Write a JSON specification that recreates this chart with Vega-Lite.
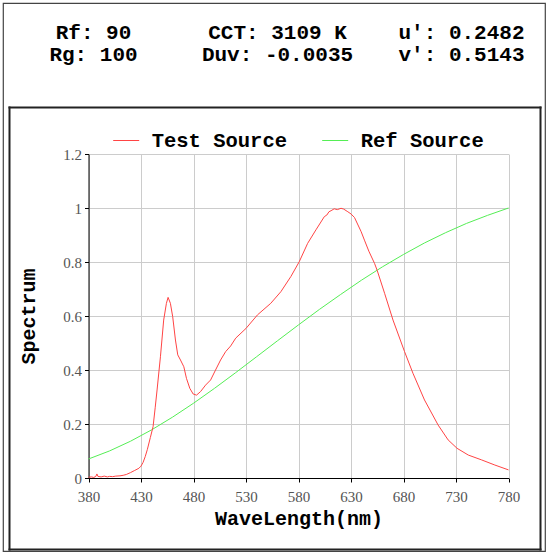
{
  "$schema": "https://vega.github.io/schema/vega-lite/v6.json",
  "autosize": "none",
  "padding": {"left": 3, "top": 3, "right": 3, "bottom": 2},
  "background": "white",
  "width": 542,
  "height": 548,
  "view": {"stroke": "#444444", "strokeWidth": 1.2},
  "config": {"font": "Liberation Mono"},
  "datasets": {
    "header": [
      {"col": "1", "row": "1", "label": "Rf: 90"},
      {"col": "2", "row": "1", "label": "CCT: 3109 K"},
      {"col": "3", "row": "1", "label": "u': 0.2482"},
      {"col": "1", "row": "2", "label": "Rg: 100"},
      {"col": "2", "row": "2", "label": "Duv: -0.0035"},
      {"col": "3", "row": "2", "label": "v': 0.5143"}
    ],
    "spectrum": [
      {"source": "Test Source", "wl": 380, "val": 0.003},
      {"source": "Test Source", "wl": 383, "val": 0.004},
      {"source": "Test Source", "wl": 385, "val": 0.002},
      {"source": "Test Source", "wl": 387, "val": 0.006},
      {"source": "Test Source", "wl": 388, "val": 0.015},
      {"source": "Test Source", "wl": 389, "val": 0.006},
      {"source": "Test Source", "wl": 392, "val": 0.004},
      {"source": "Test Source", "wl": 395, "val": 0.007},
      {"source": "Test Source", "wl": 398, "val": 0.004},
      {"source": "Test Source", "wl": 400, "val": 0.006},
      {"source": "Test Source", "wl": 403, "val": 0.005},
      {"source": "Test Source", "wl": 406, "val": 0.007},
      {"source": "Test Source", "wl": 410, "val": 0.008},
      {"source": "Test Source", "wl": 413, "val": 0.010},
      {"source": "Test Source", "wl": 416, "val": 0.013},
      {"source": "Test Source", "wl": 420, "val": 0.020},
      {"source": "Test Source", "wl": 424, "val": 0.028},
      {"source": "Test Source", "wl": 428, "val": 0.036},
      {"source": "Test Source", "wl": 430, "val": 0.044},
      {"source": "Test Source", "wl": 432, "val": 0.058},
      {"source": "Test Source", "wl": 434, "val": 0.079},
      {"source": "Test Source", "wl": 436, "val": 0.105},
      {"source": "Test Source", "wl": 438.9, "val": 0.150},
      {"source": "Test Source", "wl": 441.5, "val": 0.190},
      {"source": "Test Source", "wl": 443.5, "val": 0.26},
      {"source": "Test Source", "wl": 445.3, "val": 0.326},
      {"source": "Test Source", "wl": 448.5, "val": 0.449},
      {"source": "Test Source", "wl": 451.6, "val": 0.585},
      {"source": "Test Source", "wl": 454.2, "val": 0.647},
      {"source": "Test Source", "wl": 455.8, "val": 0.669},
      {"source": "Test Source", "wl": 458, "val": 0.647},
      {"source": "Test Source", "wl": 460.2, "val": 0.597},
      {"source": "Test Source", "wl": 462.8, "val": 0.511},
      {"source": "Test Source", "wl": 465, "val": 0.456},
      {"source": "Test Source", "wl": 467.6, "val": 0.437},
      {"source": "Test Source", "wl": 470.8, "val": 0.412},
      {"source": "Test Source", "wl": 473.3, "val": 0.369},
      {"source": "Test Source", "wl": 476.5, "val": 0.332},
      {"source": "Test Source", "wl": 479.7, "val": 0.311},
      {"source": "Test Source", "wl": 482.9, "val": 0.307},
      {"source": "Test Source", "wl": 486.7, "val": 0.32},
      {"source": "Test Source", "wl": 491.5, "val": 0.344},
      {"source": "Test Source", "wl": 496.3, "val": 0.363},
      {"source": "Test Source", "wl": 501, "val": 0.40},
      {"source": "Test Source", "wl": 505.8, "val": 0.437},
      {"source": "Test Source", "wl": 510.6, "val": 0.468},
      {"source": "Test Source", "wl": 515.4, "val": 0.489},
      {"source": "Test Source", "wl": 520.2, "val": 0.518},
      {"source": "Test Source", "wl": 530, "val": 0.554},
      {"source": "Test Source", "wl": 540.9, "val": 0.604},
      {"source": "Test Source", "wl": 553.6, "val": 0.647},
      {"source": "Test Source", "wl": 563.2, "val": 0.69},
      {"source": "Test Source", "wl": 572.7, "val": 0.746},
      {"source": "Test Source", "wl": 580.7, "val": 0.801},
      {"source": "Test Source", "wl": 588.7, "val": 0.869},
      {"source": "Test Source", "wl": 596.6, "val": 0.919},
      {"source": "Test Source", "wl": 604.6, "val": 0.968},
      {"source": "Test Source", "wl": 607, "val": 0.974},
      {"source": "Test Source", "wl": 609, "val": 0.986},
      {"source": "Test Source", "wl": 611, "val": 0.99},
      {"source": "Test Source", "wl": 614, "val": 0.997},
      {"source": "Test Source", "wl": 617, "val": 0.994},
      {"source": "Test Source", "wl": 620.5, "val": 0.999},
      {"source": "Test Source", "wl": 623, "val": 0.996},
      {"source": "Test Source", "wl": 627, "val": 0.986},
      {"source": "Test Source", "wl": 630, "val": 0.978},
      {"source": "Test Source", "wl": 633.3, "val": 0.965},
      {"source": "Test Source", "wl": 639.7, "val": 0.912},
      {"source": "Test Source", "wl": 642.8, "val": 0.881},
      {"source": "Test Source", "wl": 647, "val": 0.84},
      {"source": "Test Source", "wl": 652.4, "val": 0.795},
      {"source": "Test Source", "wl": 655, "val": 0.768},
      {"source": "Test Source", "wl": 662, "val": 0.684},
      {"source": "Test Source", "wl": 670, "val": 0.585},
      {"source": "Test Source", "wl": 681, "val": 0.468},
      {"source": "Test Source", "wl": 689, "val": 0.388},
      {"source": "Test Source", "wl": 700, "val": 0.289},
      {"source": "Test Source", "wl": 713, "val": 0.196},
      {"source": "Test Source", "wl": 722.5, "val": 0.141},
      {"source": "Test Source", "wl": 731, "val": 0.11},
      {"source": "Test Source", "wl": 741.7, "val": 0.085},
      {"source": "Test Source", "wl": 754.4, "val": 0.067},
      {"source": "Test Source", "wl": 767, "val": 0.048},
      {"source": "Test Source", "wl": 780, "val": 0.03},
      {"source": "Ref Source", "wl": 380, "val": 0.0704},
      {"source": "Ref Source", "wl": 400, "val": 0.1002},
      {"source": "Ref Source", "wl": 420, "val": 0.1362},
      {"source": "Ref Source", "wl": 440, "val": 0.1781},
      {"source": "Ref Source", "wl": 460, "val": 0.2253},
      {"source": "Ref Source", "wl": 480, "val": 0.2769},
      {"source": "Ref Source", "wl": 500, "val": 0.3321},
      {"source": "Ref Source", "wl": 520, "val": 0.3897},
      {"source": "Ref Source", "wl": 540, "val": 0.4489},
      {"source": "Ref Source", "wl": 560, "val": 0.5083},
      {"source": "Ref Source", "wl": 580, "val": 0.5671},
      {"source": "Ref Source", "wl": 600, "val": 0.6246},
      {"source": "Ref Source", "wl": 620, "val": 0.6794},
      {"source": "Ref Source", "wl": 640, "val": 0.7327},
      {"source": "Ref Source", "wl": 660, "val": 0.7822},
      {"source": "Ref Source", "wl": 680, "val": 0.8279},
      {"source": "Ref Source", "wl": 700, "val": 0.8706},
      {"source": "Ref Source", "wl": 720, "val": 0.9085},
      {"source": "Ref Source", "wl": 740, "val": 0.9429},
      {"source": "Ref Source", "wl": 760, "val": 0.9727},
      {"source": "Ref Source", "wl": 780, "val": 1.0}
    ]
  },
  "resolve": {
    "scale": {"x": "independent", "y": "independent"},
    "axis": {"x": "independent", "y": "independent"}
  },
  "layer": [
    {
      "data": {"name": "header"},
      "mark": {"type": "text", "font": "Liberation Mono", "fontWeight": "bold", "fontSize": 21, "baseline": "middle", "align": "center", "color": "#000000"},
      "encoding": {
        "x": {"field": "col", "type": "ordinal", "scale": {"type": "point", "domain": ["1", "2", "3"], "range": [90.5, 458.5], "padding": 0}, "axis": null},
        "y": {"field": "row", "type": "ordinal", "scale": {"type": "point", "domain": ["1", "2"], "range": [30, 52], "padding": 0}, "axis": null},
        "text": {"field": "label"}
      }
    },
    {
      "data": {"name": "spectrum"},
      "mark": {"type": "line", "opacity": 0},
      "encoding": {
        "x": {"field": "wl", "type": "quantitative", "scale": {"domain": [380, 780], "range": [6, 537], "nice": false, "zero": false},
              "axis": {"orient": "top", "offset": -104, "title": null, "labels": false, "ticks": false, "grid": false, "domain": true, "domainColor": "#222222", "domainWidth": 2, "domainCap": "square"}},
        "y": {"field": "val", "type": "quantitative", "scale": {"domain": [0, 1.2], "range": [546, 104], "nice": false, "zero": false},
              "axis": {"orient": "left", "offset": -6, "title": null, "labels": false, "ticks": false, "grid": false, "domain": true, "domainColor": "#222222", "domainWidth": 2, "domainCap": "square"}},
        "detail": {"field": "source"}
      }
    },
    {
      "data": {"name": "spectrum"},
      "mark": {"type": "line", "opacity": 0},
      "encoding": {
        "x": {"field": "wl", "type": "quantitative", "scale": {"domain": [380, 780], "range": [6, 537], "nice": false, "zero": false},
              "axis": {"orient": "bottom", "offset": -2, "title": null, "labels": false, "ticks": false, "grid": false, "domain": true, "domainColor": "#222222", "domainWidth": 2, "domainCap": "square"}},
        "y": {"field": "val", "type": "quantitative", "scale": {"domain": [0, 1.2], "range": [546, 104], "nice": false, "zero": false},
              "axis": {"orient": "right", "offset": -5, "title": null, "labels": false, "ticks": false, "grid": false, "domain": true, "domainColor": "#222222", "domainWidth": 2, "domainCap": "square"}},
        "detail": {"field": "source"}
      }
    },
    {
      "data": {"name": "spectrum"},
      "transform": [{"filter": "datum.source === 'Ref Source'"}],
      "mark": {"type": "line", "strokeWidth": 1},
      "encoding": {
        "x": {"field": "wl", "type": "quantitative", "scale": {"domain": [380, 780], "range": [85.5, 505.5], "nice": false, "zero": false},
              "axis": {"orient": "top", "offset": 0, "title": null, "labels": false, "ticks": false, "domain": false, "grid": true, "gridColor": "#cccccc", "gridWidth": 1,
                       "values": [380, 430, 480, 530, 580, 630, 680, 730, 780]}},
        "y": {"field": "val", "type": "quantitative", "scale": {"domain": [0, 1.2], "range": [475, 151], "nice": false, "zero": false}, "axis": null},
        "color": {
          "field": "source", "type": "nominal",
          "scale": {"domain": ["Test Source", "Ref Source"], "range": ["#ff4444", "#55ee55"]},
          "legend": {
            "title": null, "orient": "none", "legendX": 109.7, "legendY": 124, "direction": "horizontal", "padding": 0,
            "labelFont": "Liberation Mono", "labelFontWeight": "bold", "labelFontSize": 20.5, "labelColor": "#000000",
            "symbolType": "stroke", "symbolSize": 676, "symbolStrokeWidth": 1, "labelOffset": 12, "columnPadding": 32
          }
        }
      }
    },
    {
      "data": {"name": "spectrum"},
      "transform": [{"filter": "datum.source === 'Test Source'"}],
      "mark": {"type": "line", "strokeWidth": 1},
      "encoding": {
        "x": {
          "field": "wl", "type": "quantitative",
          "scale": {"domain": [380, 780], "range": [85.5, 505.5], "nice": false, "zero": false},
          "axis": {
            "orient": "bottom", "title": "WaveLength(nm)", "values": [380, 430, 480, 530, 580, 630, 680, 730, 780], "grid": false,
            "offset": -73, "labelFlush": false, "labelFont": "Liberation Serif", "labelFontSize": 15, "labelColor": "#555555",
            "labelPadding": 7, "tickSize": 4, "tickColor": "#000000", "domainColor": "#000000", "domainWidth": 1,
            "titleFont": "Liberation Mono", "titleFontWeight": "bold", "titleFontSize": 20, "titleColor": "#000000", "titlePadding": 4
          }
        },
        "y": {
          "field": "val", "type": "quantitative",
          "scale": {"domain": [0, 1.2], "range": [475, 151], "nice": false, "zero": false},
          "axis": {
            "orient": "left", "title": "Spectrum", "values": [0, 0.2, 0.4, 0.6, 0.8, 1, 1.2], "format": "~g", "grid": true,
            "offset": -85.5, "labelFlush": false, "labelFont": "Liberation Serif", "labelFontSize": 15, "labelColor": "#555555",
            "labelPadding": 3, "tickSize": 4, "tickColor": "#000000", "domainColor": "#000000", "domainWidth": 1,
            "gridColor": "#cccccc", "gridWidth": 1,
            "titleFont": "Liberation Mono", "titleFontWeight": "bold", "titleFontSize": 20, "titleColor": "#000000", "titlePadding": 24
          }
        },
        "color": {
          "field": "source", "type": "nominal",
          "scale": {"domain": ["Test Source", "Ref Source"], "range": ["#ff4444", "#55ee55"]},
          "legend": {
            "title": null, "orient": "none", "legendX": 109.7, "legendY": 124, "direction": "horizontal", "padding": 0,
            "labelFont": "Liberation Mono", "labelFontWeight": "bold", "labelFontSize": 20.5, "labelColor": "#000000",
            "symbolType": "stroke", "symbolSize": 676, "symbolStrokeWidth": 1, "labelOffset": 12, "columnPadding": 32
          }
        }
      }
    }
  ]
}
